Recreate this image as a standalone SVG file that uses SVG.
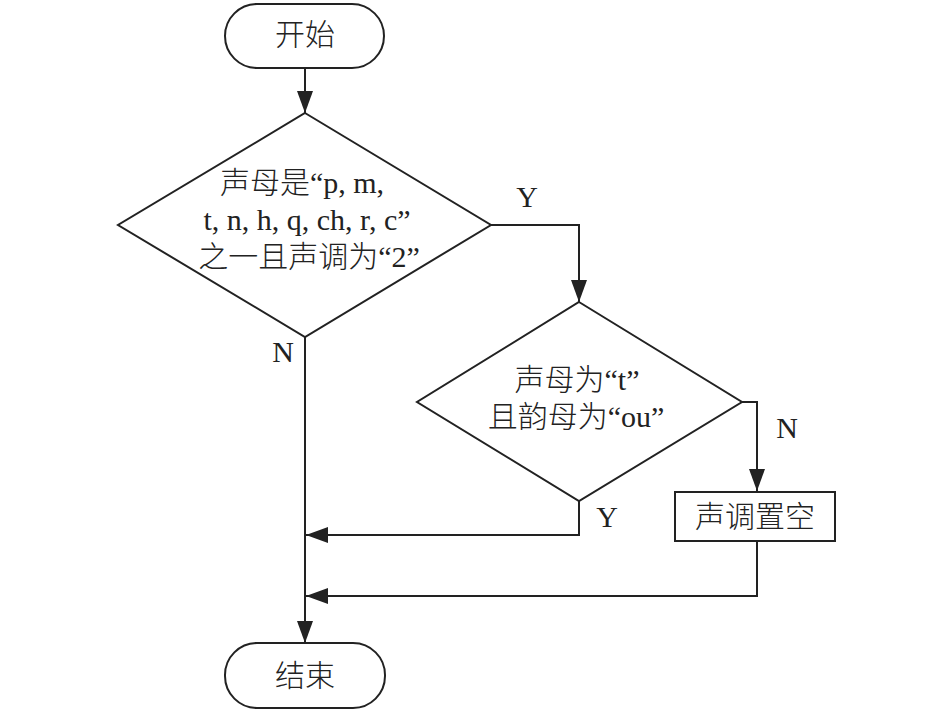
<svg xmlns="http://www.w3.org/2000/svg" width="945" height="712" viewBox="0 0 945 712">
<style>
.shape{fill:#fff;stroke:#222;stroke-width:2}
.conn{fill:none;stroke:#222;stroke-width:2}
text{font-family:"Liberation Serif","Noto Sans CJK SC",serif;font-size:30px;fill:#222;text-anchor:middle}
.cjk{font-weight:300}
</style>
<defs>
<marker id="arr" markerUnits="userSpaceOnUse" markerWidth="22" markerHeight="16" viewBox="0 0 22 16" refX="22" refY="8" orient="auto">
<path d="M0,0 L22,8 L0,16 z" fill="#222"/>
</marker>
</defs>
<rect width="945" height="712" fill="#fff"/>
<g id="connectors">
<path class="conn" d="M305,68 V113" marker-end="url(#arr)"/>
<path class="conn" d="M491,225 H579 V302" marker-end="url(#arr)"/>
<path class="conn" d="M742,402 H757 V491" marker-end="url(#arr)"/>
<path class="conn" d="M579,501 V535 H306" marker-end="url(#arr)"/>
<path class="conn" d="M757,541 V596 H306" marker-end="url(#arr)"/>
<path class="conn" d="M305,337 V643" marker-end="url(#arr)"/>
<text x="527" y="207">Y</text>
<text x="283" y="362">N</text>
<text x="787" y="438">N</text>
<text x="607" y="527">Y</text>
</g>
<g id="start">
<rect class="shape" x="225" y="4" width="159" height="64" rx="32"/>
<text class="cjk" x="305" y="45">开始</text>
</g>
<g id="decision1">
<polygon class="shape" points="305,113 491,225 305,337 118,225"/>
<text class="cjk" x="302" y="193">声母是“p, m,</text>
<text x="307" y="230">t, n, h, q, ch, r, c”</text>
<text class="cjk" x="309" y="267">之一且声调为“2”</text>
</g>
<g id="decision2">
<polygon class="shape" points="579,302 742,402 579,501 417,402"/>
<text class="cjk" x="577" y="390">声母为“t”</text>
<text class="cjk" x="576" y="427">且韵母为“ou”</text>
</g>
<g id="process">
<rect class="shape" x="675" y="492" width="160" height="49"/>
<text class="cjk" x="755" y="527">声调置空</text>
</g>
<g id="end">
<rect class="shape" x="225" y="643" width="160" height="65" rx="32"/>
<text class="cjk" x="305" y="686">结束</text>
</g>
</svg>
